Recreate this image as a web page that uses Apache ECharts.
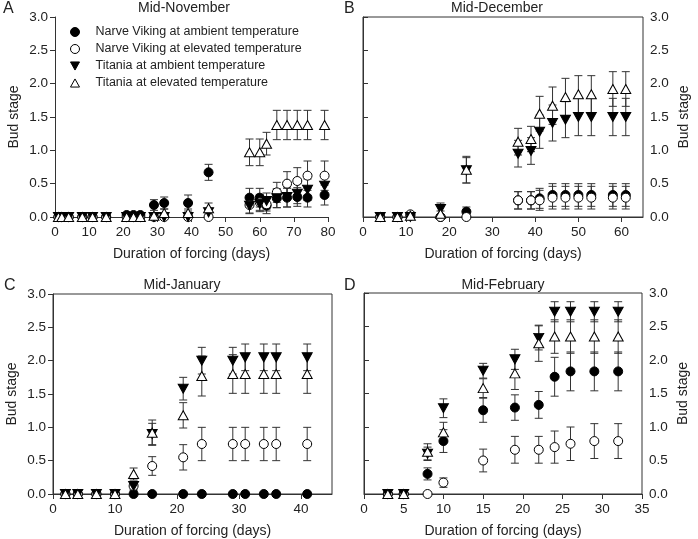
<!DOCTYPE html>
<html>
<head>
<meta charset="utf-8">
<script src="https://cdn.jsdelivr.net/npm/echarts@6/dist/echarts.min.js"></script>
<style>
  html, body { margin: 0; padding: 0; background: #fff; }
  #chart { width: 698px; height: 539px; }
</style>
</head>
<body>
<div id="chart"></div>
<script>
// --- data (days of forcing, bud stage, error) ---
const seriesNames = [
  "Narve Viking at ambient temperature",
  "Narve Viking at elevated temperature",
  "Titania at ambient temperature",
  "Titania at elevated temperature"
];
const panelTitles = ["Mid-November", "Mid-December", "Mid-January", "Mid-February"];
const panelLetters = ["A", "B", "C", "D"];

// A: Mid-November
const daysA = [1, 2, 4, 8, 11, 15, 21, 23, 25, 29, 32, 39, 45, 57, 60, 62, 65, 68, 71, 74, 79];
const nvAmbA = [0, 0, 0, 0, 0, 0, 0.03, 0.03, 0.03, 0.18, 0.21, 0.21, 0.67, 0.29, 0.29, 0.17, 0.28, 0.29, 0.3, 0.29, 0.33];
const nvAmbErrA = [0, 0, 0, 0, 0, 0, 0.02, 0.02, 0.02, 0.08, 0.09, 0.12, 0.12, 0.14, 0.14, 0.12, 0.14, 0.14, 0.14, 0.14, 0.15];
const nvElevA = [0, 0, 0, 0, 0, 0, 0, 0, 0, 0, 0, 0, 0, 0.18, 0.22, 0.19, 0.37, 0.5, 0.54, 0.62, 0.62];
const nvElevErrA = [0, 0, 0, 0, 0, 0, 0, 0, 0, 0, 0, 0, 0, 0.12, 0.12, 0.1, 0.15, 0.18, 0.2, 0.22, 0.22];
const tiAmbA = [0, 0, 0, 0, 0, 0, 0, 0, 0, 0, 0, 0, 0.07, 0.17, 0.2, 0.24, 0.28, 0.3, 0.35, 0.41, 0.47];
const tiAmbErrA = [0, 0, 0, 0, 0, 0, 0, 0, 0, 0, 0, 0, 0.05, 0.12, 0.12, 0.12, 0.14, 0.15, 0.15, 0.16, 0.17];
const tiElevA = [0, 0, 0, 0, 0, 0, 0, 0, 0, 0.02, 0.06, 0.06, 0.13, 0.97, 0.97, 1.1, 1.38, 1.38, 1.38, 1.38, 1.38];
const tiElevErrA = [0, 0, 0, 0, 0, 0, 0, 0, 0, 0.03, 0.06, 0.06, 0.08, 0.2, 0.2, 0.17, 0.22, 0.22, 0.22, 0.22, 0.22];

// B: Mid-December
const daysB = [4, 8, 11, 18, 24, 36, 39, 41, 44, 47, 50, 53, 58, 61];
const nvAmbB = [0, 0, 0.02, 0, 0.08, 0.25, 0.25, 0.28, 0.33, 0.33, 0.33, 0.33, 0.33, 0.33];
const nvAmbErrB = [0, 0, 0.02, 0, 0.07, 0.13, 0.13, 0.15, 0.17, 0.17, 0.17, 0.17, 0.17, 0.17];
const nvElevB = [0, 0, 0.04, 0, 0, 0.25, 0.25, 0.25, 0.29, 0.29, 0.29, 0.29, 0.29, 0.29];
const nvElevErrB = [0, 0, 0.03, 0, 0, 0.13, 0.13, 0.15, 0.17, 0.17, 0.17, 0.17, 0.17, 0.17];
const tiAmbB = [0, 0, 0, 0.12, 0.7, 0.95, 0.99, 1.28, 1.41, 1.46, 1.5, 1.5, 1.5, 1.5];
const tiAmbErrB = [0, 0, 0, 0.09, 0.19, 0.2, 0.2, 0.25, 0.27, 0.27, 0.28, 0.28, 0.28, 0.28];
const tiElevB = [0, 0, 0.02, 0.05, 0.71, 1.13, 1.17, 1.55, 1.67, 1.8, 1.84, 1.84, 1.92, 1.92];
const tiElevErrB = [0, 0, 0.02, 0.04, 0.2, 0.2, 0.19, 0.26, 0.28, 0.28, 0.28, 0.28, 0.26, 0.26];

// C: Mid-January
const daysC = [2, 4, 7, 10, 13, 16, 21, 24, 29, 31, 34, 36, 41];
const nvAmbC = [0, 0, 0, 0, 0, 0, 0, 0, 0, 0, 0, 0, 0];
const nvAmbErrC = [0, 0, 0, 0, 0, 0, 0, 0, 0, 0, 0, 0, 0];
const nvElevC = [0, 0, 0, 0, 0.12, 0.42, 0.55, 0.75, 0.75, 0.75, 0.75, 0.75, 0.75];
const nvElevErrC = [0, 0, 0, 0, 0.05, 0.14, 0.19, 0.25, 0.25, 0.25, 0.25, 0.25, 0.25];
const tiAmbC = [0, 0, 0, 0, 0.12, 0.9, 1.58, 2.0, 2.0, 2.05, 2.05, 2.05, 2.05];
const tiAmbErrC = [0, 0, 0, 0, 0.07, 0.16, 0.17, 0.2, 0.2, 0.2, 0.2, 0.2, 0.2];
const tiElevC = [0, 0, 0, 0, 0.3, 0.92, 1.18, 1.77, 1.8, 1.8, 1.8, 1.8, 1.8];
const tiElevErrC = [0, 0, 0, 0, 0.09, 0.19, 0.19, 0.3, 0.29, 0.29, 0.29, 0.29, 0.29];

// D: Mid-February
const daysD = [3, 5, 8, 10, 15, 19, 22, 24, 26, 29, 32];
const nvAmbD = [0, 0, 0.3, 0.79, 1.25, 1.29, 1.33, 1.75, 1.83, 1.83, 1.83];
const nvAmbErrD = [0, 0, 0.09, 0.17, 0.18, 0.19, 0.2, 0.29, 0.29, 0.29, 0.29];
const nvElevD = [0, 0, 0, 0.17, 0.5, 0.66, 0.66, 0.7, 0.75, 0.79, 0.79];
const nvElevErrD = [0, 0, 0, 0.07, 0.17, 0.2, 0.2, 0.24, 0.25, 0.26, 0.26];
const tiAmbD = [0, 0, 0.6, 1.28, 1.84, 2.01, 2.33, 2.72, 2.72, 2.72, 2.72];
const tiAmbErrD = [0, 0, 0.1, 0.14, 0.11, 0.15, 0.18, 0.15, 0.15, 0.15, 0.15];
const tiElevD = [0, 0, 0.63, 0.92, 1.58, 1.8, 2.25, 2.35, 2.35, 2.35, 2.35];
const tiElevErrD = [0, 0, 0.12, 0.15, 0.14, 0.24, 0.27, 0.25, 0.25, 0.25, 0.25];

const panels = [
  { days: daysA, vals: [nvAmbA, nvElevA, tiAmbA, tiElevA], errs: [nvAmbErrA, nvElevErrA, tiAmbErrA, tiElevErrA] },
  { days: daysB, vals: [nvAmbB, nvElevB, tiAmbB, tiElevB], errs: [nvAmbErrB, nvElevErrB, tiAmbErrB, tiElevErrB] },
  { days: daysC, vals: [nvAmbC, nvElevC, tiAmbC, tiElevC], errs: [nvAmbErrC, nvElevErrC, tiAmbErrC, tiElevErrC] },
  { days: daysD, vals: [nvAmbD, nvElevD, tiAmbD, tiElevD], errs: [nvAmbErrD, nvElevErrD, tiAmbErrD, tiElevErrD] }
];

// --- layout / styles ---
const FONT = "Liberation Sans, Arial, sans-serif";
const AX = "#333";
const grids = [
  { left: 55, top: 17, width: 273, height: 200, show: false },
  { left: 363, top: 17, width: 280, height: 200, show: true, borderColor: AX, borderWidth: 1 },
  { left: 53, top: 294, width: 279, height: 200, show: true, borderColor: AX, borderWidth: 1 },
  { left: 364, top: 293, width: 278, height: 201, show: true, borderColor: AX, borderWidth: 1 }
];
const xMax = [80, 65, 45, 35];
const xStep = [10, 10, 10, 5];
const ySide = ["left", "right", "left", "right"];

const TRI_UP = "path://M5,0 L10,9 L0,9 Z";
const TRI_DOWN = "path://M0,0 L10,0 L5,9 Z";
const markerStyle = [
  { symbol: "circle", symbolSize: 9, itemStyle: { color: "#000", borderColor: "#000", borderWidth: 1, opacity: 1 } },
  { symbol: "circle", symbolSize: 9, itemStyle: { color: "#fff", borderColor: "#000", borderWidth: 1, opacity: 1 } },
  { symbol: TRI_DOWN, symbolSize: [10, 9], itemStyle: { color: "#000", borderColor: "#000", borderWidth: 1, opacity: 1 } },
  { symbol: TRI_UP, symbolSize: [10, 9], itemStyle: { color: "#fff", borderColor: "#000", borderWidth: 1, opacity: 1 } }
];

function renderErr(params, api) {
  const x = api.value(0), y = api.value(1), e = api.value(2);
  if (!e) return null;
  const top = api.coord([x, y + e]);
  const bot = api.coord([x, Math.max(0, y - e)]);
  const w = 4;
  const st = { stroke: "#333", lineWidth: 1 };
  return {
    type: "group",
    children: [
      { type: "line", shape: { x1: top[0], y1: top[1], x2: bot[0], y2: bot[1] }, style: st },
      { type: "line", shape: { x1: top[0] - w, y1: top[1], x2: top[0] + w, y2: top[1] }, style: st },
      { type: "line", shape: { x1: bot[0] - w, y1: bot[1], x2: bot[0] + w, y2: bot[1] }, style: st }
    ]
  };
}

const xAxes = [], yAxes = [], series = [];
panels.forEach((p, i) => {
  xAxes.push({
    gridIndex: i, type: "value", min: 0, max: xMax[i], interval: xStep[i],
    name: "Duration of forcing (days)", nameLocation: "middle", nameGap: 30,
    nameTextStyle: { fontFamily: FONT, fontSize: 14, color: "#222" },
    axisLine: { onZero: false, lineStyle: { color: AX } },
    axisTick: { length: 5, lineStyle: { color: AX } },
    axisLabel: { fontFamily: FONT, fontSize: 13.5, color: "#222", margin: 8, showMaxLabel: xMax[i] % xStep[i] === 0 },
    splitLine: { show: false }
  });
  yAxes.push({
    gridIndex: i, type: "value", min: 0, max: 3, interval: 0.5, position: ySide[i],
    name: "Bud stage", nameLocation: "middle", nameGap: 34, nameRotate: 90,
    nameTextStyle: { fontFamily: FONT, fontSize: 14, color: "#222" },
    axisLine: { show: true, lineStyle: { color: AX } },
    axisTick: { show: true, length: 5, lineStyle: { color: AX } },
    axisLabel: { fontFamily: FONT, fontSize: 13.5, color: "#222", margin: 7, formatter: v => v.toFixed(1) },
    splitLine: { show: false }
  });
  p.vals.forEach((vals, k) => {
    series.push({
      type: "custom", name: "err" + i + k, xAxisIndex: i, yAxisIndex: i, z: 2,
      renderItem: renderErr, encode: { x: 0, y: 1 },
      data: p.days.map((d, j) => [d, vals[j], p.errs[k][j]])
    });
  });
  p.vals.forEach((vals, k) => {
    series.push(Object.assign({
      type: "scatter", name: seriesNames[k], xAxisIndex: i, yAxisIndex: i, z: 3 + k,
      emphasis: { disabled: true },
      data: p.days.map((d, j) => [d, vals[j]])
    }, markerStyle[k]));
  });
});

const graphics = [];
const titlePos = [[184, 8], [497, 8], [182, 285], [503, 285]];
const letterPos = [[3, 9], [344, 9], [4, 286], [344, 286]];
panels.forEach((p, i) => {
  graphics.push({ type: "text", x: titlePos[i][0], y: titlePos[i][1],
    style: { text: panelTitles[i], font: "14px " + FONT, fill: "#222", textAlign: "center", textVerticalAlign: "middle" } });
  graphics.push({ type: "text", x: letterPos[i][0], y: letterPos[i][1],
    style: { text: panelLetters[i], font: "16px " + FONT, fill: "#222", textAlign: "left", textVerticalAlign: "middle" } });
});

const chart = echarts.init(document.getElementById("chart"));
chart.setOption({
  animation: false,
  backgroundColor: "#fff",
  grid: grids,
  xAxis: xAxes,
  yAxis: yAxes,
  legend: {
    data: seriesNames, orient: "vertical", left: 65, top: 20,
    itemWidth: 9, itemHeight: 9, itemGap: 3,
    itemStyle: { borderWidth: 1 },
    textStyle: { fontFamily: FONT, fontSize: 12.5, color: "#222", lineHeight: 14, padding: [0, 0, 0, 11] }
  },
  graphic: graphics,
  series: series
});
</script>
</body>
</html>
